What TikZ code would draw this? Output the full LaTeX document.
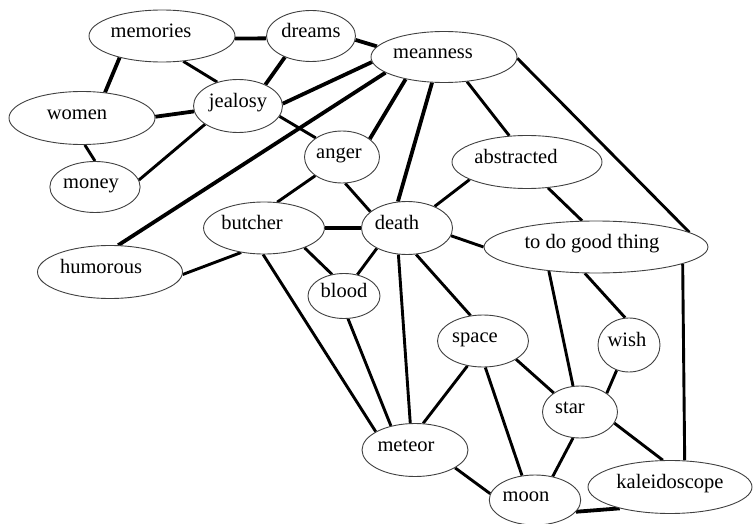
\documentclass[tikz,border=0pt]{standalone}
\usepackage{fontspec}
\setmainfont{Liberation Serif}
\usetikzlibrary{shapes.geometric,backgrounds}
\newcommand\tsh[1]{\hspace*{#1}}
\begin{document}
\begin{tikzpicture}[x=1pt,y=-1pt,
  concept/.style={ellipse, draw=black!75, line width=0.9pt, fill=white, inner sep=0pt,
    text height=0.55em, text depth=0.25em, font=\fontsize{20.5}{22}\selectfont},
  thk/.style={line width=3.8pt},
  med/.style={line width=2.9pt}]
\useasboundingbox (0,0) rectangle (753,524);
\node[concept, minimum width=146pt, minimum height=52pt] (memories) at (162,36) {memories\tsh{22pt}};
\node[concept, minimum width=89pt, minimum height=51pt] (dreams) at (311,36) {dreams};
\node[concept, minimum width=146pt, minimum height=51pt] (meanness) at (444,57) {meanness\tsh{22pt}};
\node[concept, minimum width=146pt, minimum height=53pt] (women) at (82,118) {women\tsh{10pt}};
\node[concept, minimum width=89pt, minimum height=53pt] (jealosy) at (238,106) {jealosy};
\node[concept, minimum width=90pt, minimum height=51pt] (money) at (95,187) {money\tsh{8pt}};
\node[concept, minimum width=75pt, minimum height=52pt] (anger) at (342,157) {anger\tsh{6pt}};
\node[concept, minimum width=150pt, minimum height=53pt] (abstracted) at (527,162) {abstracted\tsh{22pt}};
\node[concept, minimum width=120pt, minimum height=52pt] (butcher) at (264,228) {butcher\tsh{24pt}};
\node[concept, minimum width=90pt, minimum height=53pt] (death) at (407,228) {death\tsh{20pt}};
\node[concept, minimum width=145pt, minimum height=53pt] (humorous) at (110,272) {humorous\tsh{18pt}};
\node[concept, minimum width=72pt, minimum height=45pt] (blood) at (344,296) {blood};
\node[concept, minimum width=224pt, minimum height=52pt] (todo) at (596,247) {to do good thing\tsh{8pt}};
\node[concept, minimum width=91pt, minimum height=52pt] (space) at (483,341) {space\tsh{16pt}};
\node[concept, minimum width=62pt, minimum height=54pt] (wish) at (629,345) {wish\tsh{4pt}};
\node[concept, minimum width=75pt, minimum height=52pt] (star) at (580,412) {star\tsh{20pt}};
\node[concept, minimum width=106pt, minimum height=53pt] (meteor) at (415,450) {meteor\tsh{18pt}};
\node[concept, minimum width=90pt, minimum height=50pt] (moon) at (535,500) {moon\tsh{18pt}};
\node[concept, minimum width=164pt, minimum height=53pt] (kaleidoscope) at (670,487) {kaleidoscope};
\begin{scope}[on background layer]
\draw[thk] (memories.-2) -- (dreams.183);
\draw[thk] (memories.207.6) -- (women.48.7);
\draw[med] (memories.-50) -- (jealosy.131);
\draw[thk] (dreams.-141) -- (jealosy.38.4);
\draw[thk] (dreams.-5) -- (meanness.171.8);
\draw[thk] (jealosy.3.8) -- (meanness.-176);
\draw[thk] (women.1) -- (jealosy.187.8);
\draw[med] (women.-84) -- (money.90);
\draw[med] (money.9.2) -- (jealosy.209.9);
\draw[med] (jealosy.-14.7) -- (anger.144.9);
\draw[thk] (meanness.195.9) -- (humorous.73.5);
\draw[thk] (meanness.210.5) -- (anger.33.2);
\draw[thk] (meanness.245) -- (death.109.8);
\draw[med] (meanness.-47.3) -- (abstracted.124.2);
\draw[med] (meanness.-1) -- (todo.9);
\draw[med] (anger.215.8) -- (butcher.63.4);
\draw[med] (anger.-83.4) -- (death.156.2);
\draw[thk] (butcher.east) -- (death.west);
\draw[med] (butcher.227.5) -- (humorous.-2);
\draw[med] (butcher.-26) -- (blood.119.7);
\draw[med] (death.214.6) -- (blood.58.2);
\draw[med] (butcher.-92) -- (meteor.155);
\draw[med] (blood.-80) -- (meteor.135);
\draw[med] (death.-10) -- (todo.180);
\draw[med] (death.-108.4) -- (meteor.100.5);
\draw[med] (death.-71) -- (space.116.6);
\draw[med] (abstracted.197) -- (death.38.7);
\draw[med] (abstracted.-51) -- (todo.118.3);
\draw[med] (todo.207) -- (star.105.6);
\draw[med] (todo.247.8) -- (wish.98.4);
\draw[med] (todo.-11.8) -- (kaleidoscope.61);
\draw[med] (space.238.4) -- (meteor.73.5);
\draw[med] (space.-85.8) -- (moon.118.6);
\draw[med] (space.-29.2) -- (star.144.9);
\draw[med] (wish.244.4) -- (star.35.5);
\draw[med] (star.255) -- (moon.53.5);
\draw[med] (star.-18.9) -- (kaleidoscope.105);
\draw[med] (meteor.-24.2) -- (moon.172);
\draw[thk] (moon.-16.5) -- (kaleidoscope.203);
\end{scope}
\end{tikzpicture}
\end{document}
